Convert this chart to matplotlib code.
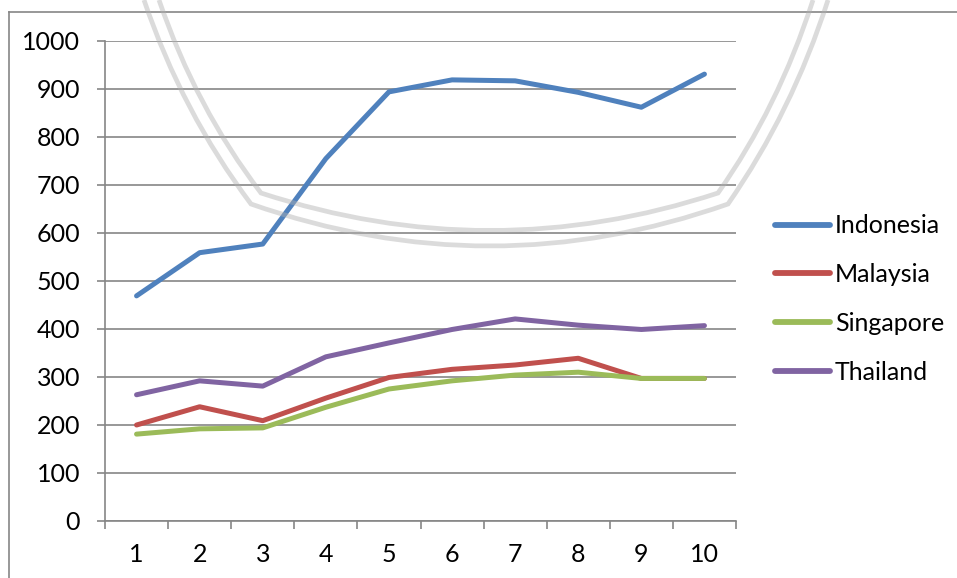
import matplotlib.pyplot as plt
from matplotlib.lines import Line2D
from matplotlib.path import Path
from matplotlib.patches import PathPatch

periods = [1, 2, 3, 4, 5, 6, 7, 8, 9, 10]
indonesia = [469, 559, 577, 755, 894, 919, 917, 893, 862, 931]
malaysia = [200, 238, 209, 256, 299, 316, 325, 339, 297, 297]
singapore = [181, 192, 194, 237, 275, 292, 304, 310, 297, 297]
thailand = [263, 292, 281, 342, 371, 399, 421, 408, 399, 407]

series = [("Indonesia", indonesia, "#4F81BD"),
          ("Malaysia", malaysia, "#C0504D"),
          ("Singapore", singapore, "#9BBB59"),
          ("Thailand", thailand, "#8064A2")]

plt.rcParams["font.family"] = ["Lato", "DejaVu Sans"]
grey = "#868686"
W, H = 957, 578


def px(x, y):
    # pixel coords (origin top-left) -> figure fraction
    return (x / W, 1 - y / H)


fig = plt.figure(figsize=(W / 100, H / 100), dpi=100)

# outer chart frame (only top and left visible)
fig.add_artist(Line2D([9 / W, 1], [1 - 12 / H, 1 - 12 / H], color=grey, lw=1.2))
fig.add_artist(Line2D([9 / W, 9 / W], [0, 1 - 12 / H], color=grey, lw=1.2))

ax = fig.add_axes([105 / W, (H - 521) / H, 631 / W, 480 / H])
x = list(range(len(periods)))
for name, vals, col in series:
    ax.plot(x, vals, color=col, lw=3.6, label=name, solid_capstyle="round",
            solid_joinstyle="round", zorder=3)

ax.set_ylim(0, 1000)
ax.set_yticks(range(0, 1001, 100))
ax.set_xlim(-0.5, len(periods) - 0.5)
ax.set_xticks(x)
ax.set_xticklabels([str(p) for p in periods])
ax.set_xticks([i - 0.5 for i in range(len(periods) + 1)], minor=True)
ax.grid(axis="y", color=grey, lw=1.2)
ax.set_axisbelow(True)
for s in ["top", "right"]:
    ax.spines[s].set_visible(False)
for s in ["left", "bottom"]:
    ax.spines[s].set_color(grey)
    ax.spines[s].set_linewidth(1.2)
ax.tick_params(axis="y", length=6, width=1.2, color=grey, labelsize=18, pad=12)
ax.tick_params(axis="x", which="major", length=0, labelsize=18, pad=16)
ax.tick_params(axis="x", which="minor", length=6, width=1.2, color=grey)

leg = ax.legend(loc="center left", bbox_to_anchor=(775 / W, 1 - 299 / H),
                bbox_transform=fig.transFigure, frameon=False, fontsize=18,
                handlelength=2.2, handletextpad=0.2, labelspacing=1.03,
                borderaxespad=0, borderpad=0)
for h in leg.legend_handles:
    h.set_linewidth(4.2)

# faint watermark (double U outline)
codes = [Path.MOVETO, Path.CURVE3, Path.CURVE3, Path.CURVE3, Path.CURVE3,
         Path.CURVE3, Path.CURVE3]
outer = [px(144, 0), px(182, 112), px(251, 204), px(490, 288), px(728, 204),
         px(792, 112), px(828, 0)]
inner = [px(159, 0), px(196, 108), px(261, 193), px(490, 268), px(718, 193),
         px(778, 108), px(813, 0)]
for pts in (outer, inner):
    fig.add_artist(PathPatch(Path(pts, codes), transform=fig.transFigure,
                             fill=False, ec="#b0b0b0", lw=3.4, alpha=0.45,
                             joinstyle="miter", zorder=10))

fig.savefig("out.png", dpi=100)
